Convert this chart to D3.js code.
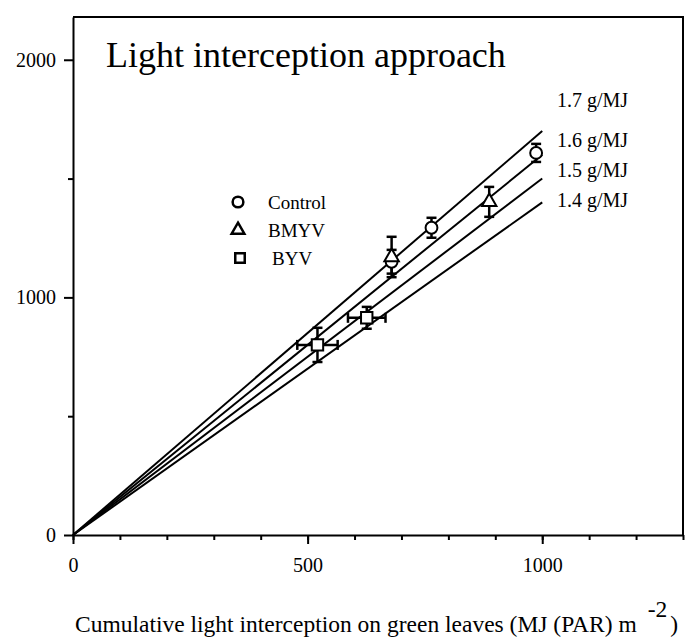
<!DOCTYPE html>
<html>
<head>
<meta charset="utf-8">
<script src="https://cdn.jsdelivr.net/npm/d3@7"></script>
<style>
  body { margin: 0; background: #fff; }
  svg text { font-family: "Liberation Serif", "DejaVu Serif", serif; fill: #000; }
</style>
</head>
<body>
<svg id="chart" width="690" height="644"></svg>
<script>
// Données
const slopes = [1.7, 1.6, 1.5, 1.4];
const slopeLabels = ['1.7 g/MJ', '1.6 g/MJ', '1.5 g/MJ', '1.4 g/MJ'];
const lineEndX = 1000;

const controlX = [987, 764, 679];
const controlY = [1608, 1293, 1150];
const controlErr = [38, 42, 50];

const bmyvX = [887, 679];
const bmyvY = [1402, 1170];
const bmyvErr = [63, 85];

const byvX = [626, 521];
const byvY = [914, 800];
const byvErrY = [46, 72];
const byvErrX = [40, 43];

const legendNames = ['Control', 'BMYV', 'BYV'];
const xMajor = [0, 500, 1000];
const xMinor = d3.range(0, 1301, 100);
const yMajor = [0, 1000, 2000];
const yMinor = [500, 1500];

const xLabel = 'Cumulative light interception on green leaves (MJ (PAR) m';

// Échelles
const x = d3.scaleLinear().domain([0, 1300]).range([73, 683]);
const y = d3.scaleLinear().domain([0, 2180]).range([535, 17]);

const svg = d3.select('#chart');

// Cadre (haut et droite)
svg.append('path')
    .attr('d', `M${x(0)},${y(2180)} H${x(1300)} V${y(0)}`)
    .attr('fill', 'none')
    .attr('stroke', '#000')
    .attr('stroke-width', 2);

// Axes
function styleAxis(g) {
    g.select('.domain').attr('stroke-width', 2);
    g.selectAll('.tick line').attr('stroke-width', 2);
    g.selectAll('.tick text')
        .style('font-family', '"Liberation Serif", serif')
        .style('font-size', '20px');
}

svg.append('g')
    .attr('transform', `translate(0,${y(0)})`)
    .call(d3.axisBottom(x).tickValues(xMinor).tickSize(5).tickFormat(''))
    .call(g => g.select('.domain').remove())
    .call(styleAxis);

svg.append('g')
    .attr('transform', `translate(0,${y(0)})`)
    .call(d3.axisBottom(x).tickValues(xMajor).tickSize(9).tickSizeOuter(0).tickPadding(14).tickFormat(d3.format('d')))
    .call(styleAxis);

svg.append('g')
    .attr('transform', `translate(${x(0)},0)`)
    .call(d3.axisLeft(y).tickValues(yMinor).tickSize(5).tickFormat(''))
    .call(g => g.select('.domain').remove())
    .call(styleAxis);

svg.append('g')
    .attr('transform', `translate(${x(0)},0)`)
    .call(d3.axisLeft(y).tickValues(yMajor).tickSize(9).tickSizeOuter(0).tickPadding(8).tickFormat(d3.format('d')))
    .call(styleAxis);

// Droites d'efficience
svg.append('g').selectAll('line')
    .data(slopes)
    .join('line')
    .attr('x1', x(0)).attr('y1', y(0))
    .attr('x2', x(lineEndX))
    .attr('y2', d => y(d * lineEndX))
    .attr('stroke', '#000')
    .attr('stroke-width', 2);

const labelY = [107, 147, 177, 207];
svg.append('g').selectAll('text')
    .data(slopeLabels)
    .join('text')
    .attr('x', 557)
    .attr('y', (d, i) => labelY[i])
    .style('font-size', '20px')
    .text(d => d);

// Barres d'erreur
const errG = svg.append('g')
    .attr('stroke', '#000')
    .attr('stroke-width', 2.5);

function vBar(px, py, e) {
    errG.append('line').attr('x1', x(px)).attr('x2', x(px)).attr('y1', y(py - e)).attr('y2', y(py + e));
    [py - e, py + e].forEach(v => errG.append('line')
        .attr('x1', x(px) - 5).attr('x2', x(px) + 5).attr('y1', y(v)).attr('y2', y(v)));
}
function hBar(px, py, e) {
    errG.append('line').attr('y1', y(py)).attr('y2', y(py)).attr('x1', x(px - e)).attr('x2', x(px + e));
    [px - e, px + e].forEach(v => errG.append('line')
        .attr('y1', y(py) - 5).attr('y2', y(py) + 5).attr('x1', x(v)).attr('x2', x(v)));
}

controlX.forEach((d, i) => vBar(d, controlY[i], controlErr[i]));
bmyvX.forEach((d, i) => vBar(d, bmyvY[i], bmyvErr[i]));
byvX.forEach((d, i) => {
    vBar(d, byvY[i], byvErrY[i]);
    hBar(d, byvY[i], byvErrX[i]);
});

// Symboles
const sym = {
    circle: d3.symbol(d3.symbolCircle, 110)(),
    triangle: d3.symbol(d3.symbolTriangle, 90)(),
    square: d3.symbol(d3.symbolSquare, 130)()
};

function drawMarks(xs, ys, shape) {
    svg.append('g').selectAll('path')
        .data(xs)
        .join('path')
        .attr('d', sym[shape])
        .attr('transform', (d, i) => `translate(${x(d)},${y(ys[i])})`)
        .attr('fill', '#fff')
        .attr('stroke', '#000')
        .attr('stroke-width', 2);
}
drawMarks(controlX, controlY, 'circle');
drawMarks(bmyvX, bmyvY, 'triangle');
drawMarks(byvX, byvY, 'square');

// Légende
const legY = [202, 230, 258];
const leg = svg.append('g');
legendNames.forEach((name, i) => {
    leg.append('path')
        .attr('d', d3.symbol(i === 0 ? d3.symbolCircle : i === 1 ? d3.symbolTriangle : d3.symbolSquare, i === 1 ? 70 : 90)())
        .attr('transform', `translate(${238 + (i === 2 ? 2 : 0)},${legY[i]})`)
        .attr('fill', '#fff')
        .attr('stroke', '#000')
        .attr('stroke-width', 2.5);
    leg.append('text')
        .attr('x', 268 + (i === 2 ? 4 : 0))
        .attr('y', legY[i] + 7)
        .style('font-size', '19px')
        .text(name);
});

// Titre
svg.append('text')
    .attr('x', 106)
    .attr('y', 67)
    .style('font-size', '36px')
    .text('Light interception approach');

// Titre de l'axe X
const xt = svg.append('text')
    .attr('x', 75)
    .attr('y', 632)
    .style('font-size', '23.5px');
xt.append('tspan').text(xLabel);
xt.append('tspan').attr('dx', 11).attr('dy', -15).text('-2');
xt.append('tspan').attr('dx', 3).attr('dy', 15).text(')');
</script>
</body>
</html>
